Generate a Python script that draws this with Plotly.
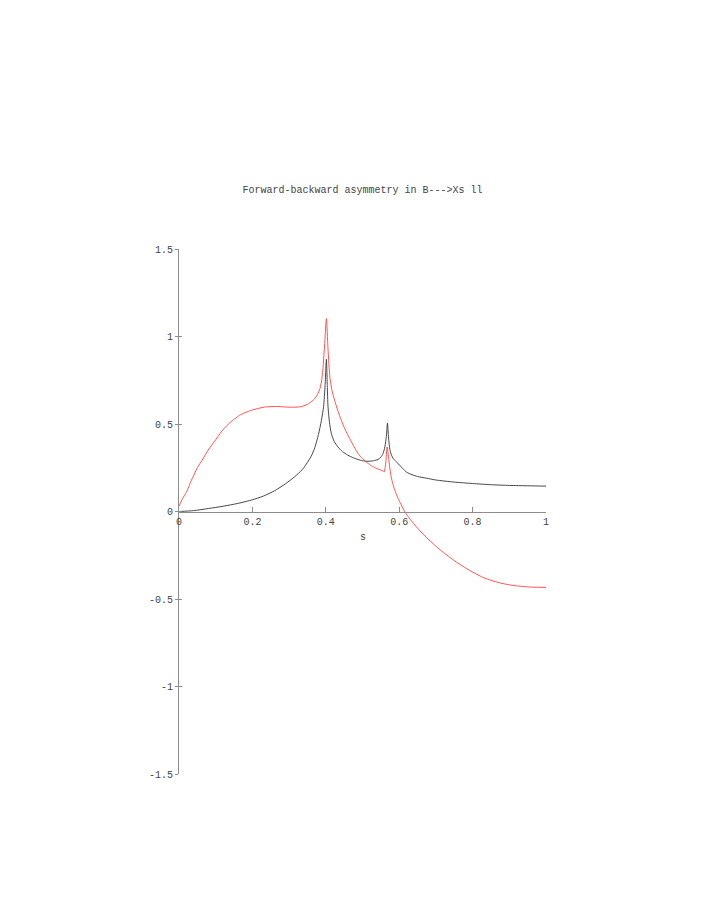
import plotly.graph_objects as go

# ---- data ----
s_black = [0.0, 0.04, 0.08, 0.12, 0.16, 0.2, 0.23, 0.26, 0.29, 0.32, 0.34, 0.36, 0.37, 0.38, 0.388,
           0.394, 0.398, 0.4016, 0.404, 0.406, 0.41, 0.415, 0.423, 0.433, 0.445, 0.46, 0.475, 0.488,
           0.5, 0.515, 0.53, 0.542, 0.55, 0.556, 0.561, 0.565, 0.568, 0.571, 0.575, 0.579, 0.584,
           0.588, 0.595, 0.601, 0.61, 0.62, 0.635, 0.65, 0.675, 0.7, 0.75, 0.8, 0.85, 0.9, 0.95, 1.0]
a_black = [0.0, 0.005, 0.017, 0.03, 0.046, 0.067, 0.088, 0.118, 0.158, 0.207, 0.25, 0.315, 0.365, 0.44, 0.52,
           0.6, 0.72, 0.87, 0.72, 0.6, 0.51, 0.446, 0.4, 0.369, 0.343, 0.322, 0.307, 0.297,
           0.29, 0.287, 0.29, 0.297, 0.31, 0.331, 0.37, 0.43, 0.506, 0.42, 0.35, 0.322, 0.302,
           0.293, 0.278, 0.265, 0.245, 0.225, 0.21, 0.2, 0.19, 0.18, 0.168, 0.16, 0.153, 0.149, 0.147, 0.145]

s_red = [0.0, 0.01, 0.02, 0.034, 0.05, 0.065, 0.079, 0.1, 0.115, 0.13, 0.14, 0.152, 0.165, 0.18, 0.2,
         0.2335, 0.27, 0.3, 0.33, 0.35, 0.365, 0.375, 0.383, 0.388, 0.392, 0.397, 0.4016, 0.406,
         0.411, 0.417, 0.424, 0.433, 0.4425, 0.453, 0.465, 0.477, 0.488, 0.5, 0.51, 0.522, 0.533,
         0.545, 0.556, 0.559, 0.563, 0.567, 0.571, 0.574, 0.578, 0.583, 0.59, 0.597, 0.605, 0.615,
         0.63, 0.65, 0.67, 0.692, 0.715, 0.74, 0.76, 0.783, 0.805, 0.83, 0.85, 0.874, 0.9, 0.92,
         0.94, 0.96, 0.98, 1.0]
a_red = [0.03, 0.075, 0.11, 0.179, 0.25, 0.3, 0.35, 0.41, 0.455, 0.49, 0.51, 0.53, 0.55, 0.565, 0.58,
         0.597, 0.6, 0.596, 0.598, 0.612, 0.635, 0.66, 0.695, 0.74, 0.81, 0.96, 1.103, 0.93,
         0.77, 0.69, 0.636, 0.575, 0.52, 0.467, 0.417, 0.37, 0.331, 0.302, 0.283, 0.265, 0.251,
         0.24, 0.232, 0.226, 0.27, 0.369, 0.31, 0.255, 0.2, 0.155, 0.11, 0.075, 0.04, 0.0,
         -0.045, -0.095, -0.14, -0.183, -0.225, -0.265, -0.295, -0.325, -0.352, -0.378, -0.393,
         -0.408, -0.419, -0.425, -0.429, -0.432, -0.433, -0.434]

x_ticks = [0, 0.2, 0.4, 0.6, 0.8, 1]
x_ticktext = ["0", "0.2", "0.4", "0.6", "0.8", "1"]
y_ticks = [1.5, 1, 0.5, 0, -0.5, -1, -1.5]
y_ticktext = ["1.5", "1", "0.5", "0", "-0.5", "-1", "-1.5"]

title_text = "Forward-backward asymmetry in B--->Xs ll"
x_title = "s"

FONT = "Liberation Mono, Courier New, monospace"
TXT = "#444444"
AX = "#8c8c8c"

fig = go.Figure()
fig.add_trace(go.Scatter(x=s_black, y=a_black, mode="lines",
                         line=dict(color="#333333", width=0.9, shape="spline", smoothing=0.6),
                         showlegend=False, hoverinfo="skip"))
fig.add_trace(go.Scatter(x=s_red, y=a_red, mode="lines",
                         line=dict(color="#ff4040", width=0.9, shape="spline", smoothing=0.6),
                         showlegend=False, hoverinfo="skip"))
# invisible trace for the overlay axis (inner half of y ticks)
fig.add_trace(go.Scatter(x=[0], y=[0], mode="markers", marker=dict(opacity=0),
                         yaxis="y2", showlegend=False, hoverinfo="skip"))

W, H = 691, 900
fig.update_layout(
    width=W, height=H,
    margin=dict(l=171.3, r=W - 538.3, t=241, b=H - 765.8),
    paper_bgcolor="white", plot_bgcolor="white",
    font=dict(family=FONT, size=10, color=TXT),
    title=dict(text=title_text, x=0.5, xref="paper", y=1 - 181 / H, yref="container",
               xanchor="center", yanchor="middle", font=dict(family=FONT, size=10, color=TXT)),
    xaxis=dict(range=[0, 1], anchor="free", position=0.5, showline=True, linecolor=AX, linewidth=1,
               showgrid=False, zeroline=False, ticks="inside", ticklen=5, tickcolor=AX, tickwidth=1,
               tickvals=x_ticks, ticktext=x_ticktext, tickfont=dict(family=FONT, size=10, color=TXT)),
    yaxis=dict(range=[-1.5, 1.5], showline=True, linecolor=AX, linewidth=1, showgrid=False,
               zeroline=False, ticks="outside", ticklen=3, tickcolor=AX, tickwidth=1,
               tickvals=y_ticks, ticktext=y_ticktext, tickfont=dict(family=FONT, size=10, color=TXT)),
    yaxis2=dict(range=[-1.5, 1.5], overlaying="y", side="left", anchor="x", showline=False,
                showgrid=False, zeroline=False, ticks="inside", ticklen=3, tickcolor=AX, tickwidth=1,
                tickvals=y_ticks, showticklabels=False),
    annotations=[dict(text=x_title, xref="paper", yref="paper", x=0.5, y=0.5, yshift=-26,
                      showarrow=False, xanchor="center", yanchor="middle",
                      font=dict(family=FONT, size=10, color=TXT))],
)

fig.write_html("out.html")
